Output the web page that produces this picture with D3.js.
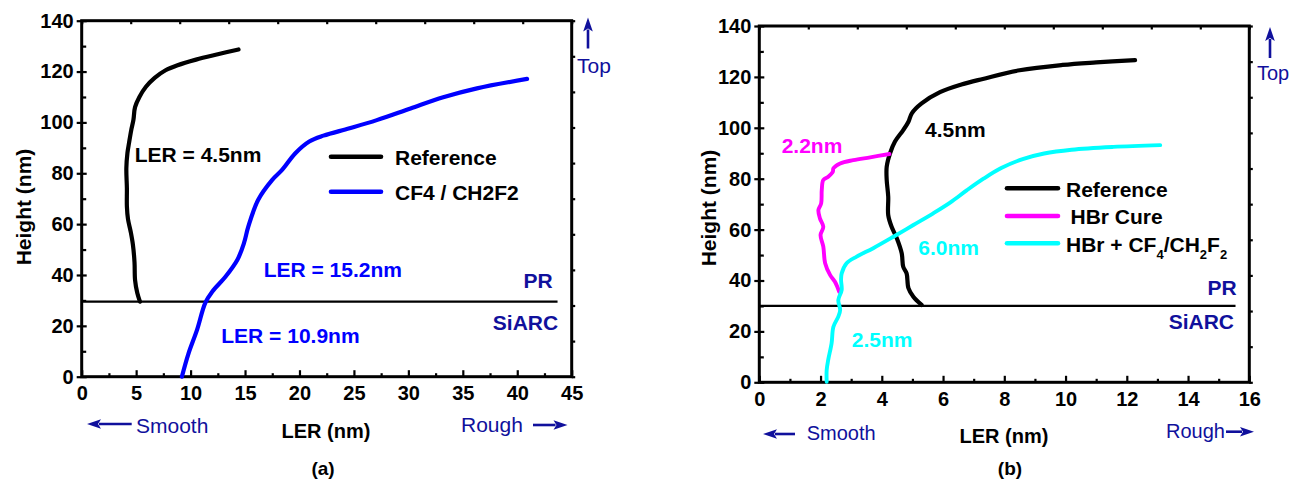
<!DOCTYPE html>
<html><head><meta charset="utf-8">
<script src="https://cdn.jsdelivr.net/npm/d3@7"></script>
<style>
html,body{margin:0;padding:0;background:#fff;}
svg{display:block;font-family:"Liberation Sans",Arial,Helvetica,sans-serif;}
</style></head>
<body><svg id="c" width="1303" height="483"></svg>
<script>
// ---------- DATA ----------
// Panel (a): [LER (nm), Height (nm)]
const aReference = [[5.35,29.5],[5.1,33],[4.9,38],[4.85,45],[4.7,52],[4.5,57],[4.25,62],[4.15,67],[4.15,74],[4.1,82],[4.2,88],[4.35,92],[4.55,97],[4.75,101],[4.9,106],[5.3,110],[5.9,114],[6.7,117.5],[7.7,120.5],[8.8,122.5],[10.5,124.7],[12.5,126.8],[14.4,128.7]];
const aCF4 = [[9.2,0],[9.8,9],[10.6,18.5],[11.35,29],[12,33.5],[13.2,39.3],[14.3,46],[14.9,52.5],[15.3,59],[16.2,69.5],[17.5,77.4],[18.4,81.3],[19.6,87.8],[20.9,92.5],[22.2,94.8],[24.6,97.7],[27.1,100.9],[30.2,105.5],[33.2,109.9],[36.3,113.4],[40.9,117.1]];
// Panel (b)
const bReference = [[5.3,30.4],[5.03,33.6],[4.87,37],[4.81,42.8],[4.7,45.4],[4.65,50.7],[4.49,56.6],[4.32,61.1],[4.21,65.7],[4.21,72.9],[4.16,79.5],[4.16,84.7],[4.27,90],[4.43,94.6],[4.7,99.1],[4.87,102.4],[4.98,105.7],[5.3,109.6],[5.9,114],[6.6,117],[7.3,119.2],[8.5,122.6],[9.9,124.7],[11,125.7],[12.27,126.6]];
const bHBrCure = [[2.61,35.6],[2.47,39.5],[2.31,42.2],[2.15,46.8],[2.09,53.3],[2.0,57.9],[2.09,61.1],[1.98,64.4],[1.93,67.7],[2.02,70.3],[2.04,75.6],[2.09,79.5],[2.25,80.8],[2.4,82.7],[2.42,84.1],[2.64,86],[3.07,87.3],[3.62,88.4],[4.25,89.7]];
const bHBrCF4 = [[2.2,0.2],[2.2,4.8],[2.25,8.8],[2.36,15.3],[2.42,21.8],[2.58,25.8],[2.64,28.4],[2.58,32.3],[2.69,36.3],[2.67,40.2],[2.69,42.8],[2.85,46.8],[3.18,49.4],[3.72,52.7],[4.38,57.2],[5.03,61.8],[5.68,66.4],[6.23,70.6],[6.77,75.4],[7.32,80],[7.9,84.2],[8.6,87.7],[9.3,89.9],[10.2,91.4],[11.56,92.5],[13.09,93.2]];

const aXTicks = [0,5,10,15,20,25,30,35,40,45];
const aXMinor = [2.5,7.5,12.5,17.5,22.5,27.5,32.5,37.5,42.5];
const bXTicks = [0,2,4,6,8,10,12,14,16];
const bXMinor = [1,3,5,7,9,11,13,15];
const yTicks = [0,20,40,60,80,100,120,140];
const yMinor = [10,30,50,70,90,110,130];
const aInterface = 29.5, bInterface = 30;
const aLegend = ["Reference","CF4 / CH2F2"];
const bLegend = ["Reference","HBr Cure","HBr + CF4/CH2F2"];

// ---------- DRAW ----------
const svg = d3.select("#c");
const DB = "#10109c";

function arrow(x1,y1,x2,y2){
  const ang=Math.atan2(y2-y1,x2-x1), L=14, Wd=4.8;
  const bx=x2-L*Math.cos(ang), by=y2-L*Math.sin(ang);
  svg.append("line").attr("x1",x1).attr("y1",y1).attr("x2",bx+2*Math.cos(ang)).attr("y2",by+2*Math.sin(ang))
    .attr("stroke",DB).attr("stroke-width",2.6);
  const px=-Math.sin(ang), py=Math.cos(ang);
  const pts=[[x2,y2],[bx+px*Wd,by+py*Wd],[bx+3*Math.cos(ang),by+3*Math.sin(ang)],[bx-px*Wd,by-py*Wd]];
  svg.append("path").attr("d","M"+pts.map(p=>p.join(",")).join("L")+"Z").attr("fill",DB);
}
function txt(x,y,s,o){
  o=o||{};
  const t=svg.append("text").attr("x",x).attr("y",y).text(s)
    .attr("font-size",o.size||21).attr("font-weight",o.bold===false?"normal":"bold")
    .attr("fill",o.fill||"#000").attr("text-anchor",o.anchor||"start");
  return t;
}

function panel(p){
  const x=d3.scaleLinear().domain(p.xd).range(p.xr);
  const y=d3.scaleLinear().domain([0,140]).range(p.yr);
  const g=svg.append("g");
  const [x0,x1]=p.xr,[y0,y1]=p.yr;
  const topT=d3.range(11).map(i=>p.xd[1]*i/10);
  const rightT=d3.range(11).map(i=>140*i/10);
  const style=a=>{a.select(".domain").remove();a.selectAll("line").attr("stroke","#000").attr("stroke-width",2.2);};
  const lab=a=>a.selectAll("text").attr("font-size",20).attr("font-weight","bold").attr("font-family","Liberation Sans, Arial, sans-serif").attr("fill","#000");
  g.append("g").attr("transform",`translate(0,${y1})`)
    .call(d3.axisTop(x).tickValues(topT).tickSizeInner(-3.5).tickSizeOuter(0).tickFormat(""))
    .call(style);
  g.append("g").attr("transform",`translate(${x1},0)`)
    .call(d3.axisRight(y).tickValues(rightT).tickSizeInner(3.5).tickSizeOuter(0).tickFormat(""))
    .call(style);
  g.append("g").attr("transform",`translate(${x0},0)`)
    .call(d3.axisLeft(y).tickValues(yTicks).tickSizeInner(5).tickSizeOuter(0).tickPadding(3))
    .call(style).call(lab);
  g.append("g").attr("transform",`translate(${x0},0)`)
    .call(d3.axisLeft(y).tickValues(yTicks).tickSizeInner(-5).tickSizeOuter(0).tickFormat(""))
    .call(style);
  g.append("g").attr("transform",`translate(${x0},0)`)
    .call(d3.axisLeft(y).tickValues(yMinor).tickSizeInner(-4.5).tickSizeOuter(0).tickFormat(""))
    .call(style);
  g.append("g").attr("transform",`translate(0,${y0})`)
    .call(d3.axisBottom(x).tickValues(p.xt).tickSizeInner(-6.5).tickSizeOuter(0).tickPadding(9.5))
    .call(style).call(lab);
  g.append("g").attr("transform",`translate(0,${y0})`)
    .call(d3.axisBottom(x).tickValues(p.xm).tickSizeInner(-3.5).tickSizeOuter(0).tickFormat(""))
    .call(style);
  g.append("rect").attr("x",x0).attr("y",y1).attr("width",x1-x0).attr("height",y0-y1)
    .attr("fill","none").attr("stroke","#000").attr("stroke-width",3);
  g.append("line").attr("x1",x(0)).attr("x2",x(p.ifEnd)).attr("y1",y(p.iface)).attr("y2",y(p.iface))
    .attr("stroke","#000").attr("stroke-width",2.2);
  const line=d3.line().x(d=>x(d[0])).y(d=>y(d[1])).curve(d3.curveCatmullRom.alpha(0.5));
  p.series.forEach(s=>{
    g.append("path").datum(s.data).attr("d",line).attr("fill","none")
      .attr("stroke",s.color).attr("stroke-width",s.w||4.2).attr("stroke-linecap","round").attr("stroke-linejoin","round");
  });
  p.notes.forEach(n=>txt(x(n.x),y(n.y),n.t,{fill:n.fill,anchor:n.anchor,size:n.size}));
  return {x,y};
}

const A=panel({xd:[0,45],xr:[81.7,571.7],yr:[376.7,20.7],xt:aXTicks,xm:aXMinor,iface:aInterface,ifEnd:43.7,
  series:[{data:aReference,color:"#000"},{data:aCF4,color:"#0000ff"}],
  notes:[
    {x:4.87,y:84.5,t:"LER = 4.5nm",fill:"#000"},
    {x:16.71,y:39.3,t:"LER = 15.2nm",fill:"#0000ff"},
    {x:12.82,y:13.1,t:"LER = 10.9nm",fill:"#0000ff"},
    {x:43.25,y:34.9,t:"PR",fill:DB,anchor:"end"},
    {x:43.76,y:18.4,t:"SiARC",fill:DB,anchor:"end"}
  ]});
const B=panel({xd:[0,16],xr:[759.3,1249.3],yr:[382.3,26],xt:bXTicks,xm:bXMinor,iface:bInterface,ifEnd:15.55,
  series:[{data:bReference,color:"#000"},{data:bHBrCure,color:"#ff00ff",w:3.9},{data:bHBrCF4,color:"#00ffff",w:3.9}],
  notes:[
    {x:0.73,y:90.2,t:"2.2nm",fill:"#ff00ff"},
    {x:5.41,y:96.5,t:"4.5nm",fill:"#000"},
    {x:5.19,y:50.0,t:"6.0nm",fill:"#00ffff"},
    {x:3.02,y:13.75,t:"2.5nm",fill:"#00ffff"},
    {x:15.59,y:34.3,t:"PR",fill:DB,anchor:"end"},
    {x:15.5,y:20.9,t:"SiARC",fill:DB,anchor:"end"}
  ]});

function legLine(x1,x2,yy,c){svg.append("line").attr("x1",x1).attr("x2",x2).attr("y1",yy).attr("y2",yy).attr("stroke",c).attr("stroke-width",4.6).attr("stroke-linecap","round");}
legLine(331,381,156.7,"#000"); txt(395,165,aLegend[0]);
legLine(331,381,191.7,"#0000ff"); txt(395,199.5,aLegend[1]);

legLine(1007,1058,188.3,"#000"); txt(1066,196.7,bLegend[0]);
legLine(1007,1058,216,"#ff00ff"); txt(1070.5,223.5,bLegend[1]);
legLine(1007,1058,243.3,"#00ffff");
{
  const t=txt(1066,251.7,"");
  t.append("tspan").text("HBr + CF");
  t.append("tspan").text("4").attr("font-size",13).attr("dy",7);
  t.append("tspan").text("/CH").attr("dy",-7);
  t.append("tspan").text("2").attr("font-size",13).attr("dy",7);
  t.append("tspan").text("F").attr("dy",-7);
  t.append("tspan").text("2").attr("font-size",13).attr("dy",7);
}

txt(326,438,"LER (nm)",{size:20,anchor:"middle"});
txt(1004,443,"LER (nm)",{size:20,anchor:"middle"});
txt(323,475,"(a)",{size:19,anchor:"middle"});
txt(1010,475,"(b)",{size:19,anchor:"middle"});
txt(0,0,"Height (nm)",{size:21,anchor:"middle"}).attr("transform","translate(31,207) rotate(-90)");
txt(0,0,"Height (nm)",{size:21,anchor:"middle"}).attr("transform","translate(716,208) rotate(-90)");

txt(577,73,"Top",{bold:false,fill:DB,size:21});
arrow(588,48.5,588,17.5);
txt(136,433,"Smooth",{bold:false,fill:DB,size:21});
arrow(131.7,424,87,424);
txt(461,432,"Rough",{bold:false,fill:DB,size:21});
arrow(533,425,567.5,425);

txt(1257,80,"Top",{bold:false,fill:DB,size:20});
arrow(1270,58,1270,27);
txt(806.7,440,"Smooth",{bold:false,fill:DB,size:20});
arrow(795,434,763,434);
txt(1166,438.3,"Rough",{bold:false,fill:DB,size:20});
arrow(1226,431.7,1254,431.7);
</script></body></html>
